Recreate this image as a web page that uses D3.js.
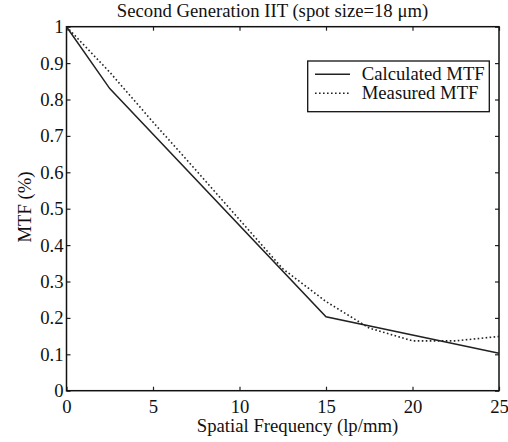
<!DOCTYPE html>
<html><head><meta charset="utf-8">
<script src="https://cdn.jsdelivr.net/npm/d3@7"></script>
<style>body{margin:0;background:#fff}svg{display:block}text{font-family:"Liberation Serif","Times New Roman",serif;fill:#111}</style>
</head><body>
<svg id="c" width="508" height="442"></svg>
<script>
const titleText = "Second Generation IIT (spot size=18 \u03bcm)";
const xLabel = "Spatial Frequency (lp/mm)";
const yLabel = "MTF (%)";
const xTicks = [0, 5, 10, 15, 20, 25];
const yTicks = [0, 0.1, 0.2, 0.3, 0.4, 0.5, 0.6, 0.7, 0.8, 0.9, 1];
const calcX = [0, 2.5, 15, 25];
const calcY = [1, 0.83, 0.203, 0.103];
const measX = [0, 2.5, 5, 7.5, 10, 12.5, 15, 17.5, 20, 22.5, 25];
const measY = [1, 0.875, 0.738, 0.605, 0.47, 0.335, 0.245, 0.172, 0.137, 0.137, 0.149];
const legendLabels = ["Calculated MTF", "Measured MTF"];

const svg = d3.select("#c");
const m = {l: 66.5, r: 499, t: 26.7, b: 390.7};
const x = d3.scaleLinear().domain([0, 25]).range([m.l, m.r]);
const y = d3.scaleLinear().domain([0, 1]).range([m.b, m.t]);
const fs = 18.7;

svg.append("text").attr("x", 272.5).attr("y", 17).attr("text-anchor", "middle")
  .style("font-size", fs + "px").text(titleText);

const fmtY = d => d === 0 ? "0" : d === 1 ? "1" : d3.format(".1f")(d);
svg.append("g").attr("transform", `translate(0,${m.b})`)
  .call(d3.axisBottom(x).tickValues(xTicks).tickSize(-4).tickPadding(9).tickFormat(d3.format("d")))
  .call(g => { g.select(".domain").remove(); g.selectAll("text").style("font-size", fs + "px"); });
svg.append("g").attr("transform", `translate(0,${m.t})`)
  .call(d3.axisTop(x).tickValues(xTicks).tickSize(-4).tickFormat(""))
  .call(g => g.select(".domain").remove());
svg.append("g").attr("transform", `translate(${m.l},0)`)
  .call(d3.axisLeft(y).tickValues(yTicks).tickSize(-4).tickPadding(3).tickFormat(fmtY))
  .call(g => { g.select(".domain").remove(); g.selectAll("text").style("font-size", fs + "px"); });
svg.append("g").attr("transform", `translate(${m.r},0)`)
  .call(d3.axisRight(y).tickValues(yTicks).tickSize(-4).tickFormat(""))
  .call(g => g.select(".domain").remove());
svg.selectAll(".tick line").attr("stroke", "#222").attr("stroke-width", 1.2);

svg.append("rect").attr("x", m.l).attr("y", m.t).attr("width", m.r - m.l).attr("height", m.b - m.t)
  .attr("fill", "none").attr("stroke", "#111").attr("stroke-width", 1.5);

const line = d3.line().x(d => x(d[0])).y(d => y(d[1]));
svg.append("path").datum(calcX.map((v, i) => [v, calcY[i]])).attr("d", line)
  .attr("fill", "none").attr("stroke", "#222").attr("stroke-width", 1.5);
svg.append("path").datum(measX.map((v, i) => [v, measY[i]])).attr("d", line)
  .attr("fill", "none").attr("stroke", "#222").attr("stroke-width", 1.6).attr("stroke-dasharray", "1.6,2.4");

svg.append("text").attr("x", 297.5).attr("y", 432).attr("text-anchor", "middle")
  .style("font-size", fs + "px").text(xLabel);
svg.append("text").attr("transform", `translate(31,207) rotate(-90)`).attr("text-anchor", "middle")
  .style("font-size", fs + "px").text(yLabel);

const lg = svg.append("g");
lg.append("rect").attr("x", 307.7).attr("y", 61).attr("width", 181.6).attr("height", 50.7)
  .attr("fill", "#fff").attr("stroke", "#111").attr("stroke-width", 1.3);
legendLabels.forEach((t, i) => {
  const ly = 74.3 + i * 19;
  lg.append("line").attr("x1", 315).attr("x2", 350).attr("y1", ly).attr("y2", ly)
    .attr("stroke", "#222").attr("stroke-width", i === 0 ? 1.5 : 1.6)
    .attr("stroke-dasharray", i === 0 ? null : "1.6,2.4");
  lg.append("text").attr("x", 361.7).attr("y", ly + 6).style("font-size", fs + "px").text(t);
});
</script>
</body></html>
